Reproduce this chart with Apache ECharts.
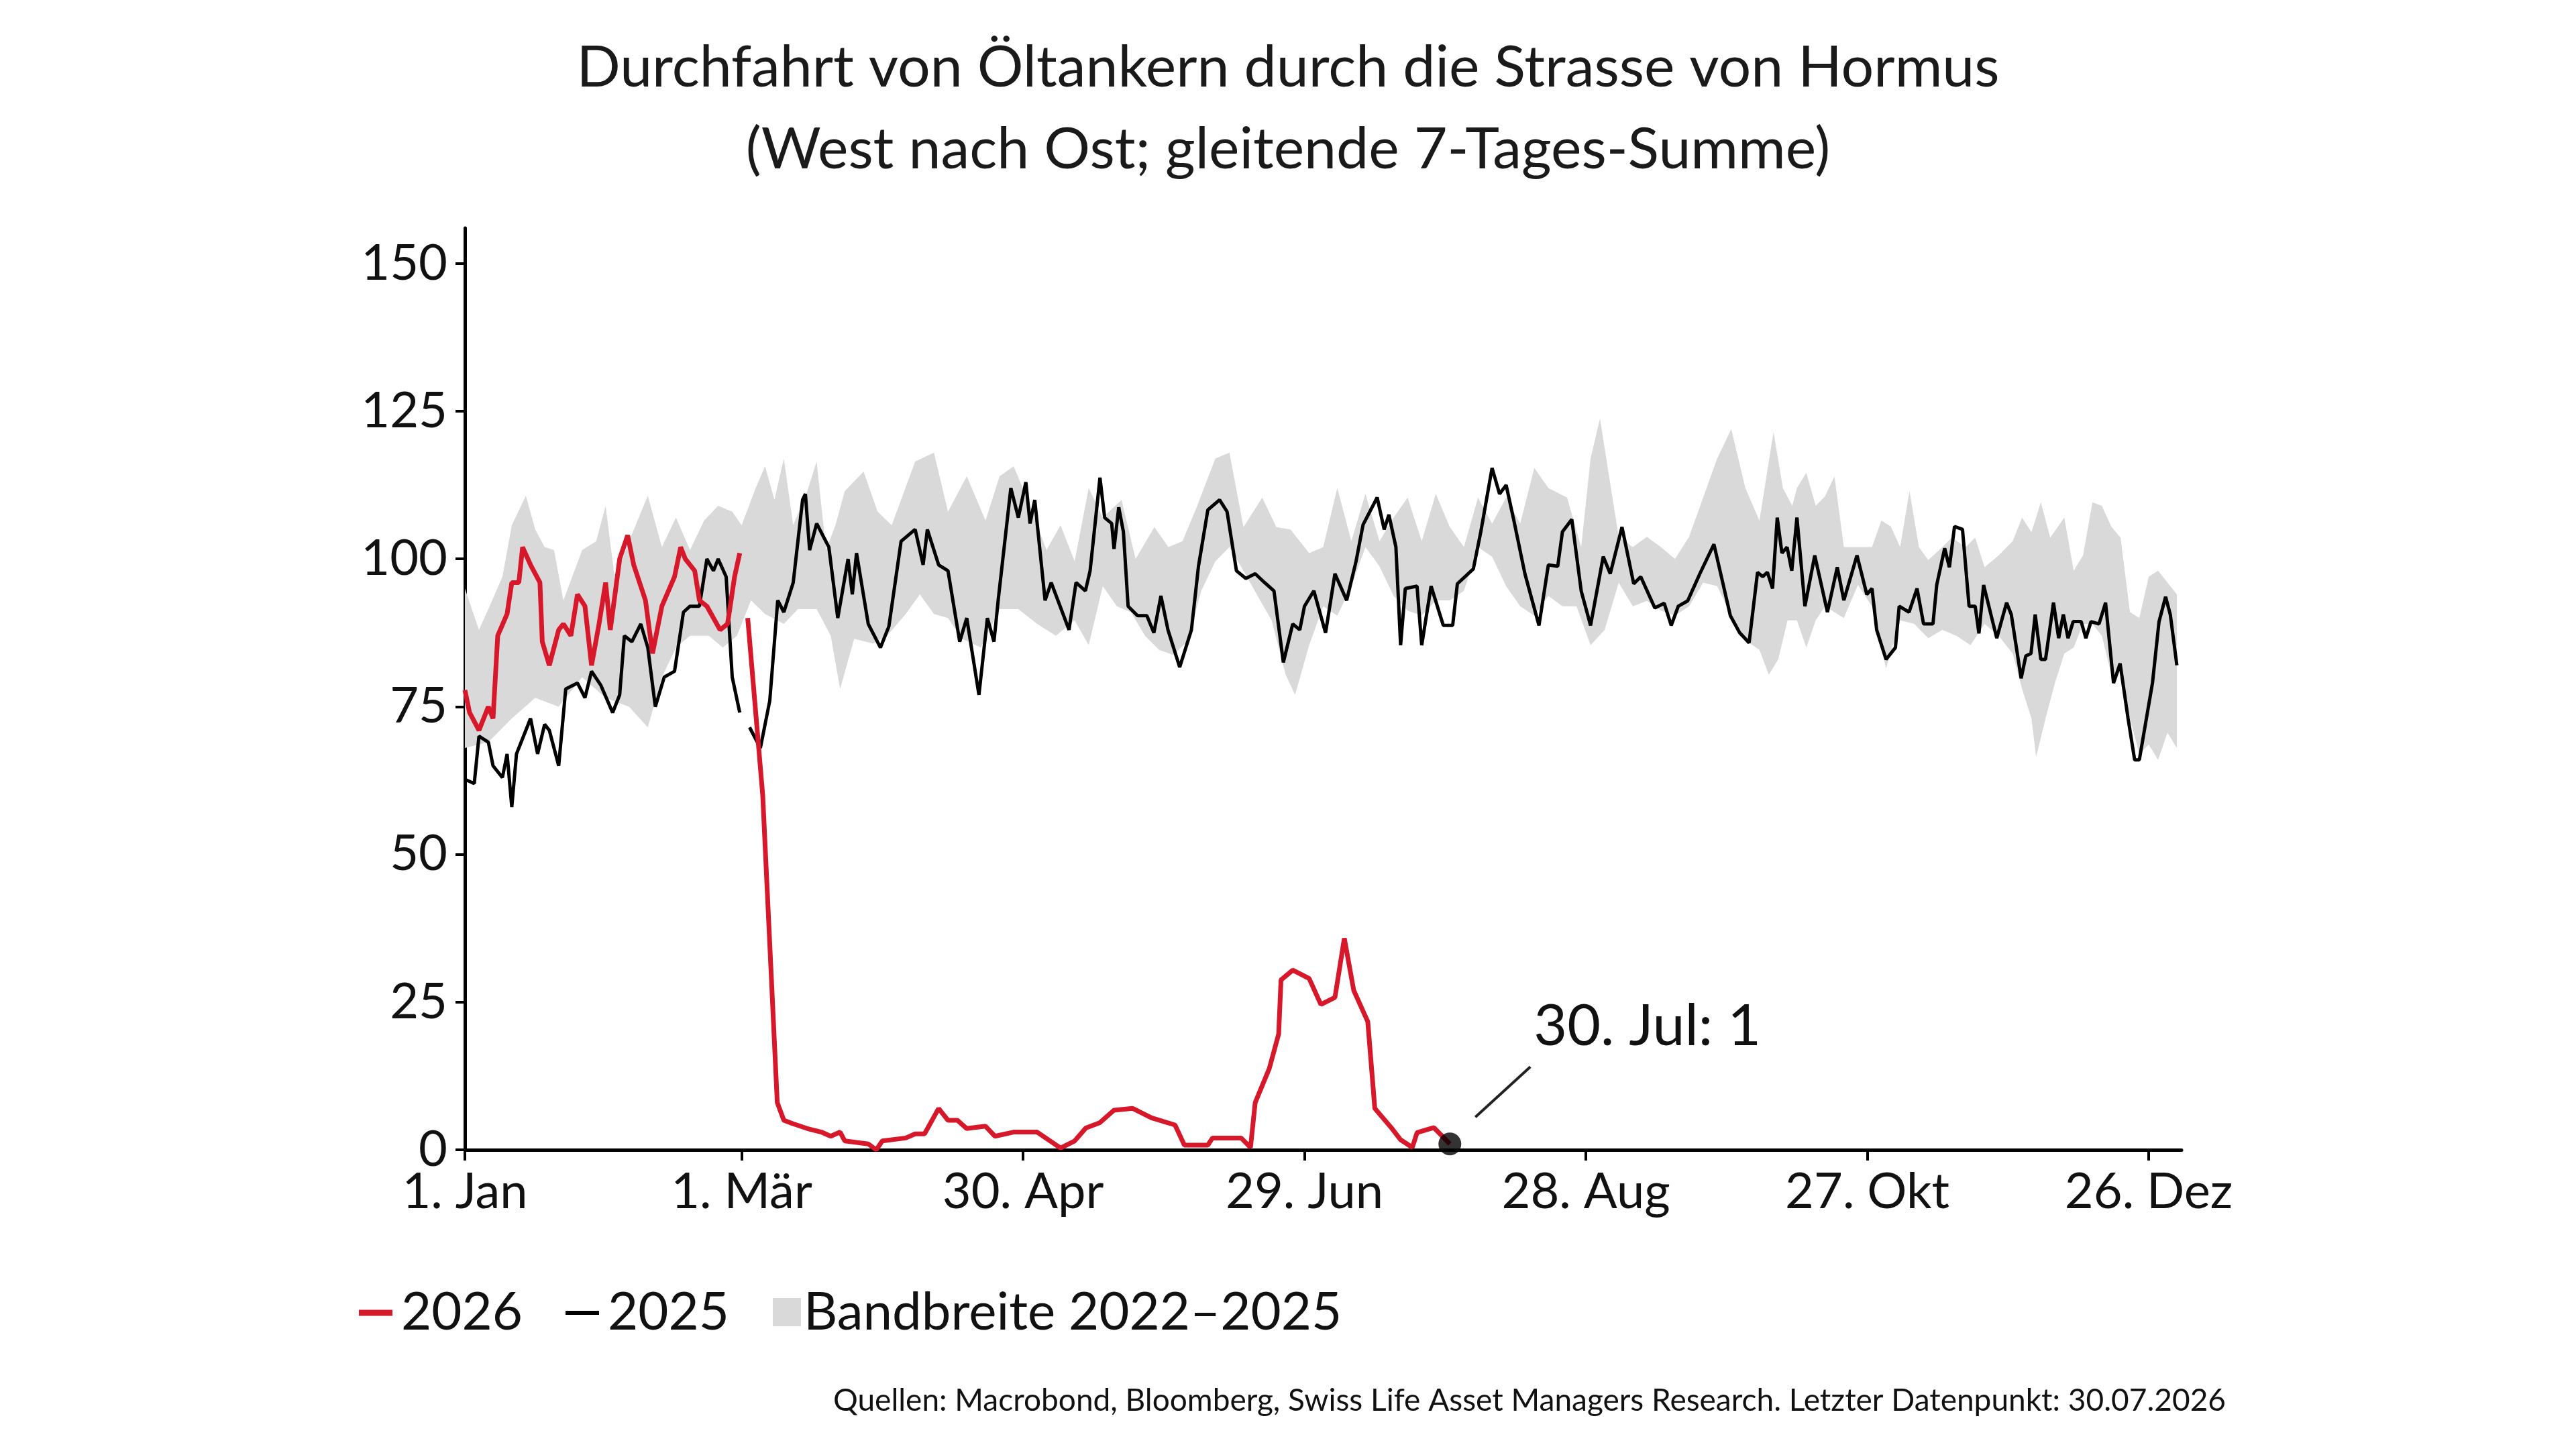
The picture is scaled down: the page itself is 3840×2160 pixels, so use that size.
<!DOCTYPE html>
<html>
<head>
<meta charset="utf-8">
<script src="https://cdn.jsdelivr.net/npm/echarts@6/dist/echarts.min.js"></script>
<style>
  html, body { margin: 0; padding: 0; background: #fff; }
  #main { width: 3840px; height: 2160px; }
</style>
</head>
<body>
<div id="main"></div>
<script>
// ---- data (x = day of year, 0 = 1. Jan)
var tickDays = [0, 59, 119, 179, 239, 299, 359];
var tickLabels = ['1. Jan', '1. Mär', '30. Apr', '29. Jun', '28. Aug', '27. Okt', '26. Dez'];
var yTicks = [0, 25, 50, 75, 100, 125, 150];

var line2026 = [
  [0,77.8],[1,74],[3,71],[5,75],[6,73],[7,87],[9,90.7],[10,96],[11.5,96],[12.3,102],[14,99],[16,96],[16.5,86],
  [18,82],[20,88],[21,89],[22.6,87],[24,94],[25.6,92],[27,82],[28.6,89],[30,96],[31,88],[33,100],[34.7,104],
  [36,99],[38.5,93],[40,84],[42,92],[44.7,97],[46,102],[47,100],[49,98],[50,93],[51.6,92],[53,90],[54.4,88],
  [56,89],[57.5,97],[58.6,101],[59.5,'-'],
  [60.3,90],[63.5,60],[66.6,8],[68,5],[70,4.4],[73,3.6],[76,3],[78,2.3],[80,3],[81,1.5],[86,1],[87.7,0],[89,1.5],
  [94,2],[96,2.7],[98,2.7],[101,7],[103,5],[105,5],[107,3.6],[111,4],[113,2.3],[117,3],[122,3],[127,0.3],
  [130,1.5],[132.4,3.7],[135.4,4.6],[138.4,6.7],[142.4,7],[146.4,5.4],[151.4,4.2],[153.4,0.8],[158.4,0.8],
  [159.4,2],[165.5,2],[167.5,0.4],[168.5,8],[171.5,13.75],[173.5,19.6],[174,28.75],[176.5,30.4],[180,29],
  [182.5,24.6],[185.5,25.8],[187.5,35.8],[189.5,27],[192.5,21.7],[194,7],[197.5,3.75],[199.5,1.7],[202,0.4],
  [203,2.9],[206.6,3.75],[210,1]
];

var line2025 = [
  [0,62.7],[2,62],[3,70],[5,69],[6,65],[8,63],[9,67],[10,58],[11,67],[14,73],[15.5,67],[17,72],[18,71],[20,65],
  [21.5,78],[24,79],[25.6,76.5],[27,81],[29,78.6],[31.5,74],[33,77],[34,87],[35.6,86],[37.5,89],[39,85],[40.6,75],
  [42.5,80],[44.7,81],[46.6,91],[48,92],[50,92],[51.6,100],[53,98],[54,100],[55.7,97],[57,80],[58.6,74],[59.6,'-'],
  [60.7,71.5],[63,68],[65,76],[66.7,93],[68,91],[70,96],[72,110],[72.6,111],[73.5,101.5],[75,106],[77.6,102],
  [79.5,90],[81.7,100],[82.6,94],[83.5,101],[86,89],[88.6,85],[90.4,88.6],[93,103],[96,105],[97.7,99],[98.6,105],
  [101,99],[103,98],[105.5,86],[107,90],[109.6,77],[111.4,90],[112.8,86],[113.7,93],[116.4,112],[118,107],
  [119.6,113],[120.5,106],[121.5,110],[123.7,93],[125,96],[128.8,88],[130.3,96],[132.3,94.6],[133.3,98],
  [135.4,113.75],[136.4,107],[137.9,106],[138.4,101.7],[139.4,108.75],[140.4,104.6],[141.4,92],[143.4,90.4],
  [145.4,90.4],[146.9,87.5],[148.4,93.75],[149.9,88],[152.4,81.7],[154.9,88],[156.4,98.75],[158.4,108.3],
  [160.9,110],[162.5,108],[164.5,98],[166.5,96.7],[168.5,97.5],[170.5,96],[172.5,94.6],[174.5,82.5],[176.5,89],
  [178,88],[179,92],[181,94.6],[183.5,87.5],[185.5,97.5],[188,93],[190,99.6],[191.5,105.8],[194.5,110.4],
  [196,105],[197,107.5],[198.5,102],[199.5,85.4],[200.5,95],[203,95.4],[204,85.4],[206,95.4],[208.6,88.75],
  [210.6,88.75],[211.6,95.8],[215,98.3],[216.6,104.6],[219,115.4],[220.6,111],[222,112.5],[223.6,106.7],
  [226,97.5],[229,88.75],[231,99],[233,98.75],[234,104.6],[236,106.7],[238,94.6],[240,88.75],[242.7,100.4],
  [244.2,97.5],[246.7,105.4],[249.2,95.8],[250.7,97],[253.7,91.7],[255.7,92.5],[257.2,88.75],[258.7,92],
  [260.7,92.9],[263.3,97.5],[266.3,102.5],[269.8,90.4],[271.8,87.5],[273.8,85.8],[275.6,97.75],[276.7,97],
  [277.7,97.75],[278.8,95],[279.8,107],[280.8,101],[281.9,102],[282.9,98],[284,107],[285.7,92],[287.8,100.6],
  [290.5,91],[292.6,98.6],[294,93],[296.8,100.6],[298.9,94],[300,95],[301,88],[303,83],[305,85],[305.8,92],
  [307.9,91],[309.6,95],[311,89],[313,89],[313.8,95.6],[315.5,101.8],[316.5,98.6],[317.6,105.5],[319.3,105],
  [320.7,92],[322,92],[322.8,87.4],[323.8,95.6],[326.6,86.6],[328.7,92.6],[329.7,90.6],[331.8,79.8],[332.8,83.6],
  [333.9,84],[334.8,90.6],[336,83],[337,83],[338.7,92.6],[339.8,86.6],[340.8,90.6],[341.8,86.6],[342.9,89.4],
  [344.6,89.4],[345.6,86.6],[346.7,89.4],[348.4,89],[349.8,92.6],[351.5,79],[352.9,82.3],[354.6,73],[356,66],
  [357,66],[359.8,79],[361.2,89.4],[362.6,93.6],[363.6,90.6],[365,82]
];

var bandUpper = [
  [0,95],[3,88],[5,91.5],[8,97],[10,105.7],[13,110.7],[15,105],[17,102],[19,101.5],[21,93],[25,101.5],[28,103],
  [30,109],[32,96.5],[35,103],[39,110.7],[42,102],[45,107],[48,101.5],[51,106.5],[54,109],[57,108],[59,105.7],
  [62,112],[64,115.7],[66,110],[68,117],[70,105.7],[73,111.5],[75,116.5],[77,101.5],[79,105.7],[81,111.5],
  [85,114.8],[88,108],[91,105.7],[96,116.5],[100,118],[103,108],[107,114],[111,106.5],[114,114],[117,115.7],
  [120,110],[124,101.5],[127,105.7],[130,99.6],[133,112],[136,107],[140,110],[143,100],[147,105.4],[150,102],
  [153,103],[156,108.75],[160,117],[163,118],[166,105.4],[170,110.4],[173,105.4],[176,105],[180,101],[183,102],
  [186,112],[189,103],[192,111],[195,103],[198,107],[201,110.4],[204,103],[207,111],[210,105.4],[213,102],
  [216,110.4],[219,106],[222,110.4],[225,106],[228,115.4],[231,112],[235,110.4],[238,102],[240,117],[242,123.75],
  [244,113.75],[246,103.75],[249,102],[252,103.75],[255,102],[258,100],[261,103.75],[264,110.4],[267,117],
  [270,122],[273,112],[276,106.5],[278,116.5],[279,121.5],[281,112],[283,109],[284,112],[286,114.6],[288,109],
  [290,110.6],[292,114],[294,102],[297,102],[300,102],[302,106.5],[304,105.5],[306,102],[308,111.5],[310,102],
  [312,99.8],[315,102],[317,103.6],[320,102],[322,103.6],[324,98.6],[327,100.6],[330,103],[332,107],[334,104.5],
  [336,109.6],[338,103.6],[341,107],[343,98],[345,100.6],[347,109.6],[349,109],[351,105.5],[353,103.6],[355,91],
  [357,90],[359,97],[361,98],[363,96],[365,94]
];

var bandLower = [
  [0,68],[5,69],[10,73],[15,76.5],[20,75],[25,80],[30,76.5],[35,75],[39,71.5],[42,80],[45,85],[48,87],[52,87],
  [55,85],[58,87],[61,93],[64,90.7],[68,89],[71,91.5],[75,91.5],[78,87],[80,78],[83,86.5],[87,85.7],[90,87],
  [94,90.7],[97,94],[100,90.7],[103,90],[106,86.5],[110,85],[114,91.5],[118,91.5],[122,89],[126,87],[130,89.6],
  [133,85.4],[136,95.4],[139,92],[142,91],[145,87],[148,84.6],[151,83.75],[154,86],[157,94.6],[160,99.6],
  [163,102],[166,98],[169,93.75],[172,89.6],[175,80.4],[177,77],[180,85.4],[183,92],[186,90.4],[189,95.4],
  [192,102],[195,98.75],[198,93.75],[201,91.25],[204,90.4],[207,93],[210,93],[213,94.6],[216,102],[219,100.4],
  [222,95.4],[225,92],[228,90.4],[231,93.75],[234,92],[237,92],[240,85.4],[243,88],[246,96],[249,92],[252,92.9],
  [255,91.25],[258,90.4],[261,92],[264,96],[267,95.4],[270,90.4],[273,86.25],[276,84.6],[278,80.4],[280,83],
  [282,89.6],[284,89.6],[286,85],[288,89.6],[290,92],[292,91],[294,90],[297,95.6],[300,92],[303,81.5],[306,89.6],
  [309,89],[312,86.6],[315,88],[318,87],[321,85.4],[324,89],[327,87],[330,84],[332,78],[334,73],[335,66.5],
  [337,73],[339,79],[341,84],[343,85],[345,89],[347,89],[349,87],[351,80.6],[353,80.6],[355,73],[357,67],
  [359,68.6],[361,66],[363,70.6],[365,68]
];

var lastPoint = [210, 1];
var lastLabel = '30. Jul: 1';

var FONT = 'Lato, "Open Sans", sans-serif';
var RED = '#d7182a';

var chart = echarts.init(document.getElementById('main'));

var option = {
  animation: false,
  backgroundColor: '#fff',
  title: {
    text: 'Durchfahrt von Öltankern durch die Strasse von Hormus\n(West nach Ost; gleitende 7-Tages-Summe)',
    left: 'center',
    top: 35,
    textStyle: { fontFamily: FONT, fontWeight: 'normal', fontSize: 86, lineHeight: 122, color: '#1a1a1a' }
  },
  grid: { left: 693, right: 588, top: 340, bottom: 2160 - 1714 },
  xAxis: {
    type: 'value', min: 0, max: 366,
    axisLine: { show: true, lineStyle: { color: '#000', width: 5 } },
    axisTick: { show: true, customValues: tickDays, length: 16, lineStyle: { color: '#000', width: 4 } },
    axisLabel: {
      customValues: tickDays, fontFamily: FONT, fontSize: 74, color: '#111', margin: 26,
      formatter: function (v) { var i = tickDays.indexOf(v); return i >= 0 ? tickLabels[i] : ''; }
    },
    splitLine: { show: false }
  },
  yAxis: {
    type: 'value', min: 0, max: 156,
    axisLine: { show: true, lineStyle: { color: '#000', width: 5 } },
    axisTick: { show: true, customValues: yTicks, length: 14, lineStyle: { color: '#000', width: 4 } },
    axisLabel: { customValues: yTicks, fontFamily: FONT, fontSize: 74, color: '#111', margin: 26 },
    splitLine: { show: false }
  },
  series: [
    {
      name: 'Bandbreite 2022–2025',
      type: 'custom',
      silent: true,
      z: 1,
      data: [0],
      renderItem: function (params, api) {
        var pts = [];
        bandUpper.forEach(function (p) { pts.push(api.coord(p)); });
        for (var i = bandLower.length - 1; i >= 0; i--) pts.push(api.coord(bandLower[i]));
        return { type: 'polygon', shape: { points: pts }, style: { fill: '#d9d9d9' } };
      }
    },
    {
      name: '2025', type: 'line', data: line2025, showSymbol: false, z: 3,
      lineStyle: { color: '#000', width: 5 }, connectNulls: false
    },
    {
      name: '2026', type: 'line', data: line2026, showSymbol: false, z: 4,
      lineStyle: { color: RED, width: 7 }, connectNulls: false
    },
    {
      type: 'scatter', data: [lastPoint], symbolSize: 34, z: 5,
      itemStyle: { color: '#000' }
    }
  ]
};
chart.setOption(option);

// annotation + legend + source
var pt = chart.convertToPixel({ gridIndex: 0 }, lastPoint);
chart.setOption({
  graphic: [
    { type: 'line', shape: { x1: pt[0] + 38, y1: pt[1] - 40, x2: pt[0] + 120, y2: pt[1] - 115 },
      style: { stroke: '#222', lineWidth: 4 } },
    { type: 'text', x: pt[0] + 125, y: pt[1] - 175,
      style: { text: lastLabel, fontFamily: FONT, fontSize: 86, fill: '#111', textVerticalAlign: 'middle' } },

    { type: 'line', shape: { x1: 535, y1: 1957, x2: 585, y2: 1957 }, style: { stroke: RED, lineWidth: 9 } },
    { type: 'text', x: 598, y: 1957, style: { text: '2026', fontFamily: FONT, fontSize: 78, fill: '#111', textVerticalAlign: 'middle' } },
    { type: 'line', shape: { x1: 843, y1: 1957, x2: 893, y2: 1957 }, style: { stroke: '#000', lineWidth: 6 } },
    { type: 'text', x: 906, y: 1957, style: { text: '2025', fontFamily: FONT, fontSize: 78, fill: '#111', textVerticalAlign: 'middle' } },
    { type: 'rect', shape: { x: 1152, y: 1935, width: 42, height: 42 }, style: { fill: '#d9d9d9' } },
    { type: 'text', x: 1198, y: 1957, style: { text: 'Bandbreite 2022–2025', fontFamily: FONT, fontSize: 78, fill: '#111', textVerticalAlign: 'middle' } },

    { type: 'text', right: 3840 - 3318, top: 2065,
      style: { text: 'Quellen: Macrobond, Bloomberg, Swiss Life Asset Managers Research. Letzter Datenpunkt: 30.07.2026',
        fontFamily: FONT, fontSize: 46, fill: '#111' } }
  ]
});
</script>
</body>
</html>
